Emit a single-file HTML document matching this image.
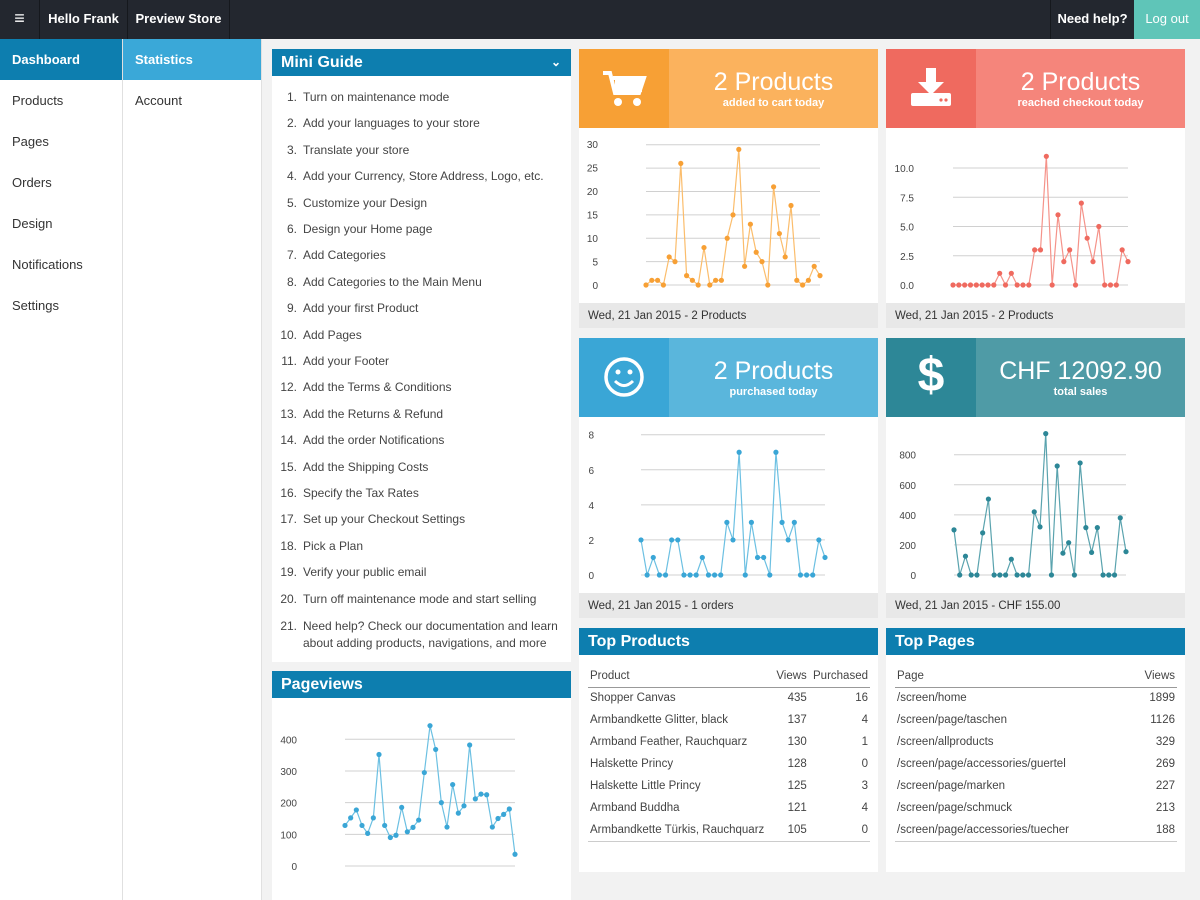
<!DOCTYPE html>
<html><head><meta charset="utf-8">
<style>
*{box-sizing:border-box;margin:0;padding:0}
body{width:1200px;height:900px;overflow:hidden;font-family:"Liberation Sans",sans-serif;background:#f2f2f2;position:relative;color:#333}
.abs{position:absolute}
.top{left:0;top:0;width:1200px;height:39px;background:#23272f;color:#fff;font-size:13px;font-weight:bold}
.top div{position:absolute;top:0;height:39px;line-height:37px;border-right:1px solid #15181d}
.side{top:39px;height:861px;background:#fff;border-right:1px solid #e0e0e0}
.side div{height:41px;line-height:41px;padding-left:12px;font-size:13px}
.panel{background:#fff}
.ph{background:#0d7eaf;color:#fff;font-size:16px;font-weight:bold;height:27px;line-height:27px;padding-left:9px}
ol{list-style:none;font-size:12px;color:#444}
ol li{position:absolute;left:0;white-space:nowrap}
ol li span{display:inline-block;width:31px;text-align:right;padding-right:6px}
.kpi{height:79px;color:#fff;text-align:center}
.kpi .n{position:absolute;left:90px;right:0;top:19px;font-size:25px}
.kpi .s{position:absolute;left:90px;right:0;top:48px;font-size:11px;font-weight:bold}
.foot{background:#e8e8e8;height:25px;line-height:27px;font-size:11.5px;padding-left:9px;color:#333}
.tl{font-size:10px;fill:#444}
table{border-collapse:collapse;font-size:11.5px;color:#444}
td{height:22px;padding:0 2px}
</style></head><body>
<div class="abs top">
 <div style="left:0;width:40px;text-align:center;font-size:18px">&#8801;</div>
 <div style="left:40px;width:88px;text-align:center">Hello Frank</div>
 <div style="left:128px;width:102px;text-align:center">Preview Store</div>
 <div style="left:1050px;width:84px;text-align:center;border-left:1px solid #15181d;border-right:none">Need help?</div>
 <div style="left:1134px;width:66px;text-align:center;background:#5fc5b8;font-weight:normal;border:none">Log out</div>
</div>
<div class="abs side" style="left:0;width:123px">
 <div style="background:#0d7eaf;color:#fff;font-weight:bold">Dashboard</div>
 <div>Products</div><div>Pages</div><div>Orders</div><div>Design</div><div>Notifications</div><div>Settings</div>
</div>
<div class="abs side" style="left:123px;width:139px">
 <div style="background:#3aa8d8;color:#fff;font-weight:bold">Statistics</div>
 <div>Account</div>
</div>

<div class="abs panel" style="left:272px;top:49px;width:299px;height:613px">
 <div class="ph">Mini Guide<span style="position:absolute;right:10px;font-size:12px">&#8964;</span></div>
 <ol class="abs" style="left:0;top:41px">
  <li style="top:0"><span>1.</span>Turn on maintenance mode</li>
  <li style="top:26.4px"><span>2.</span>Add your languages to your store</li>
  <li style="top:52.8px"><span>3.</span>Translate your store</li>
  <li style="top:79.2px"><span>4.</span>Add your Currency, Store Address, Logo, etc.</li>
  <li style="top:105.6px"><span>5.</span>Customize your Design</li>
  <li style="top:132px"><span>6.</span>Design your Home page</li>
  <li style="top:158.4px"><span>7.</span>Add Categories</li>
  <li style="top:184.8px"><span>8.</span>Add Categories to the Main Menu</li>
  <li style="top:211.2px"><span>9.</span>Add your first Product</li>
  <li style="top:237.6px"><span>10.</span>Add Pages</li>
  <li style="top:264px"><span>11.</span>Add your Footer</li>
  <li style="top:290.4px"><span>12.</span>Add the Terms &amp; Conditions</li>
  <li style="top:316.8px"><span>13.</span>Add the Returns &amp; Refund</li>
  <li style="top:343.2px"><span>14.</span>Add the order Notifications</li>
  <li style="top:369.6px"><span>15.</span>Add the Shipping Costs</li>
  <li style="top:396px"><span>16.</span>Specify the Tax Rates</li>
  <li style="top:422.4px"><span>17.</span>Set up your Checkout Settings</li>
  <li style="top:448.8px"><span>18.</span>Pick a Plan</li>
  <li style="top:475.2px"><span>19.</span>Verify your public email</li>
  <li style="top:501.6px"><span>20.</span>Turn off maintenance mode and start selling</li>
  <li style="top:528px;line-height:17px"><span>21.</span>Need help? Check our documentation and learn<br><span></span>about adding products, navigations, and more</li>
 </ol>
</div>
<div class="abs panel" style="left:272px;top:671px;width:299px;height:229px">
 <div class="ph">Pageviews</div>
</div>

<div class="abs panel" style="left:579px;top:49px;width:299px;height:279px"></div>
<div class="abs kpi" style="left:579px;top:49px;width:299px;background:#fbb25d">
 <div class="abs" style="left:0;top:0;width:90px;height:79px;background:#f7a035"></div>
 <svg class="abs" style="left:22px;top:20px" width="46" height="40" viewBox="0 0 46 40"><path d="M2 4h7l5 20h24l5-15H12" fill="none" stroke="#fff" stroke-width="4"/><rect x="14" y="9" width="27" height="14" fill="#fff"/><circle cx="17" cy="33" r="4" fill="#fff"/><circle cx="36" cy="33" r="4" fill="#fff"/></svg>
 <div class="n">2 Products</div><div class="s">added to cart today</div>
</div>
<div class="abs foot" style="left:579px;top:303px;width:299px">Wed, 21 Jan 2015 - 2 Products</div>

<div class="abs panel" style="left:886px;top:49px;width:299px;height:279px"></div>
<div class="abs kpi" style="left:886px;top:49px;width:299px;background:#f5857b">
 <div class="abs" style="left:0;top:0;width:90px;height:79px;background:#ef6a5f"></div>
 <svg class="abs" style="left:23px;top:17px" width="44" height="42" viewBox="0 0 44 42"><path d="M17 2h10v14h8L22 29 9 16h8z" fill="#fff"/><rect x="2" y="27" width="40" height="13" rx="2" fill="#fff"/><circle cx="32" cy="34" r="1.6" fill="#ef6a5f"/><circle cx="37" cy="34" r="1.6" fill="#ef6a5f"/></svg>
 <div class="n">2 Products</div><div class="s">reached checkout today</div>
</div>
<div class="abs foot" style="left:886px;top:303px;width:299px">Wed, 21 Jan 2015 - 2 Products</div>

<div class="abs panel" style="left:579px;top:338px;width:299px;height:280px"></div>
<div class="abs kpi" style="left:579px;top:338px;width:299px;background:#5ab6dc">
 <div class="abs" style="left:0;top:0;width:90px;height:79px;background:#3aa6d6"></div>
 <svg class="abs" style="left:24px;top:18px" width="42" height="42" viewBox="0 0 42 42"><circle cx="21" cy="21" r="18" fill="none" stroke="#fff" stroke-width="3.5"/><circle cx="15" cy="16" r="2.5" fill="#fff"/><circle cx="27" cy="16" r="2.5" fill="#fff"/><path d="M12 25q9 9 18 0" fill="none" stroke="#fff" stroke-width="3"/></svg>
 <div class="n">2 Products</div><div class="s">purchased today</div>
</div>
<div class="abs foot" style="left:579px;top:593px;width:299px">Wed, 21 Jan 2015 - 1 orders</div>

<div class="abs panel" style="left:886px;top:338px;width:299px;height:280px"></div>
<div class="abs kpi" style="left:886px;top:338px;width:299px;background:#4f9ba6">
 <div class="abs" style="left:0;top:0;width:90px;height:79px;background:#2d8797"></div>
 <div class="abs" style="left:0;top:8px;width:90px;font-size:48px;font-weight:bold;line-height:60px">$</div>
 <div class="n">CHF 12092.90</div><div class="s">total sales</div>
</div>
<div class="abs foot" style="left:886px;top:593px;width:299px">Wed, 21 Jan 2015 - CHF 155.00</div>

<div class="abs panel" style="left:579px;top:628px;width:299px;height:244px">
 <div class="ph">Top Products</div>
 <table class="abs" style="left:9px;top:37px;width:282px">
  <tr style="border-bottom:1px solid #999"><td>Product</td><td style="text-align:right">Views</td><td style="text-align:right">Purchased</td></tr>
  <tr><td>Shopper Canvas</td><td align="right">435</td><td align="right">16</td></tr>
  <tr><td>Armbandkette Glitter, black</td><td align="right">137</td><td align="right">4</td></tr>
  <tr><td>Armband Feather, Rauchquarz</td><td align="right">130</td><td align="right">1</td></tr>
  <tr><td>Halskette Princy</td><td align="right">128</td><td align="right">0</td></tr>
  <tr><td>Halskette Little Princy</td><td align="right">125</td><td align="right">3</td></tr>
  <tr><td>Armband Buddha</td><td align="right">121</td><td align="right">4</td></tr>
  <tr style="border-bottom:1px solid #ccc"><td>Armbandkette Türkis, Rauchquarz</td><td align="right">105</td><td align="right">0</td></tr>
 </table>
</div>
<div class="abs panel" style="left:886px;top:628px;width:299px;height:244px">
 <div class="ph">Top Pages</div>
 <table class="abs" style="left:9px;top:37px;width:282px">
  <tr style="border-bottom:1px solid #999"><td>Page</td><td style="text-align:right">Views</td></tr>
  <tr><td>/screen/home</td><td align="right">1899</td></tr>
  <tr><td>/screen/page/taschen</td><td align="right">1126</td></tr>
  <tr><td>/screen/allproducts</td><td align="right">329</td></tr>
  <tr><td>/screen/page/accessories/guertel</td><td align="right">269</td></tr>
  <tr><td>/screen/page/marken</td><td align="right">227</td></tr>
  <tr><td>/screen/page/schmuck</td><td align="right">213</td></tr>
  <tr style="border-bottom:1px solid #ccc"><td>/screen/page/accessories/tuecher</td><td align="right">188</td></tr>
 </table>
</div>

<svg class="abs" style="left:0;top:0" width="1200" height="900" id="charts">
 <g class="tl" text-anchor="end">
  <text x="598" y="289">0</text><text x="598" y="265.5">5</text><text x="598" y="242">10</text><text x="598" y="218.5">15</text><text x="598" y="195">20</text><text x="598" y="171.5">25</text><text x="598" y="148">30</text>
  <text x="914" y="289">0.0</text><text x="914" y="259.8">2.5</text><text x="914" y="230.5">5.0</text><text x="914" y="201.3">7.5</text><text x="914" y="172">10.0</text>
  <text x="594" y="579">0</text><text x="594" y="544">2</text><text x="594" y="509">4</text><text x="594" y="473.8">6</text><text x="594" y="438.7">8</text>
  <text x="916" y="579">0</text><text x="916" y="549">200</text><text x="916" y="519">400</text><text x="916" y="488.8">600</text><text x="916" y="458.7">800</text>
  <text x="297" y="870">0</text><text x="297" y="838.3">100</text><text x="297" y="806.7">200</text><text x="297" y="775">300</text><text x="297" y="743.3">400</text>
 </g>
</svg>
<script>
var NS="http://www.w3.org/2000/svg",svg=document.getElementById("charts");
function el(n,a){var e=document.createElementNS(NS,n);for(var k in a)e.setAttribute(k,a[k]);svg.appendChild(e);return e;}
function chart(d,x0,x1,y0,ytop,vtop,ticks,col,lc){
 var sc=(y0-ytop)/vtop;
 ticks.forEach(function(t){var y=y0-t*sc;el("line",{x1:x0,x2:x1,y1:y,y2:y,stroke:"#d0d0d0","stroke-width":1});});
 var pts=d.map(function(v,i){return [x0+(x1-x0)*i/(d.length-1),y0-v*sc];});
 el("polyline",{points:pts.map(function(p){return p.join(",")}).join(" "),fill:"none",stroke:lc,"stroke-width":1.2});
 pts.forEach(function(p){el("circle",{cx:p[0],cy:p[1],r:2.6,fill:col});});
}
chart([0,1,1,0,6,5,26,2,1,0,8,0,1,1,10,15,29,4,13,7,5,0,21,11,6,17,1,0,1,4,2],646,820,285,144.7,30,[0,5,10,15,20,25,30],"#f7a035","#fbbd6c");
chart([0,0,0,0,0,0,0,0,1,0,1,0,0,0,3,3,11,0,6,2,3,0,7,4,2,5,0,0,0,3,2],953,1128,285,168,10,[0,2.5,5,7.5,10],"#ef6a5f","#f5938a");
chart([2,0,1,0,0,2,2,0,0,0,1,0,0,0,3,2,7,0,3,1,1,0,7,3,2,3,0,0,0,2,1],641,825,575,434.7,8,[0,2,4,6,8],"#3aa6d6","#6cc0e2");
chart([300,0,125,0,0,280,505,0,0,0,105,0,0,0,420,320,940,0,725,145,215,0,745,315,150,315,0,0,0,380,155],954,1126,575,454.7,800,[0,200,400,600,800],"#2d8797","#5aa3ae");
chart([128,152,177,128,103,152,352,128,90,97,185,108,122,145,295,443,368,200,123,257,167,190,382,212,227,225,123,150,163,180,37],345,515,866,739.3,400,[0,100,200,300,400],"#3aa6d6","#6cc0e2");
</script>
</body></html>
